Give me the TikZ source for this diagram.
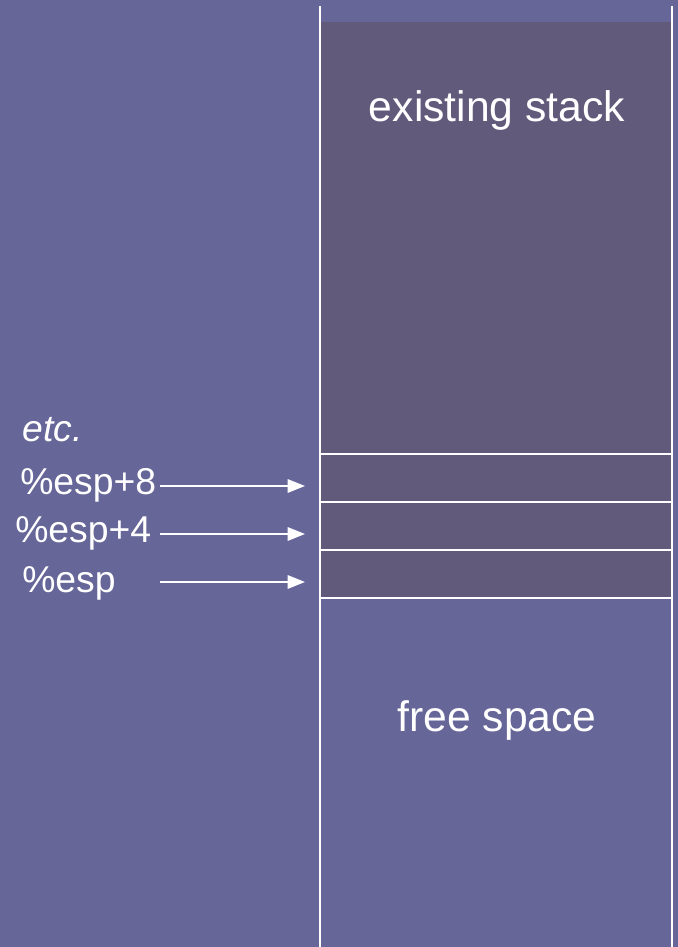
\documentclass[tikz,border=0pt]{standalone}
\usepackage{fontspec}
\setmainfont{Liberation Sans}
\usetikzlibrary{positioning, calc, arrows.meta}
\definecolor{bgblue}{HTML}{666699}
\definecolor{stackfill}{HTML}{615A7B}

\begin{document}
\begin{tikzpicture}[x=0.75pt, y=-0.75pt, >={Triangle[length=13pt, width=10pt]}]
        \tikzstyle{wline} = [draw=white, line width=1.5pt]
        \tikzstyle{slot} = [rectangle, draw=white, line width=1.5pt, fill=stackfill, minimum width=264pt, minimum height=36pt, outer sep=0pt, inner sep=0pt]
        \tikzstyle{txt} = [text=white, font=\fontsize{32}{36}\selectfont, inner sep=0pt]
        \tikzstyle{reg} = [text=white, font=\fontsize{28}{32}\selectfont, inner sep=0pt, anchor=west]

        % background and stack area
        \fill [bgblue] (0,0) rectangle (678,947);
        \useasboundingbox (0,0) rectangle (678,947);
        \fill [stackfill] (320,22) rectangle (672,598);

        % the three stack slots
        \node (slot8) [slot, anchor=north west] at (320,454) {};
        \node (slot4) [slot, below=0pt of slot8] {};
        \node (slot0) [slot, below=0pt of slot4] {};

        % side walls of the stack
        \draw [wline] (320,6) -- (320,947);
        \draw [wline] (672,6) -- (672,947);

        \node (existing) [txt] at (497,110) {existing stack};
        \node (free) [txt] at (497,720) {free space};

        % register labels
        \node (etc) [reg] at (22,430) {\itshape etc.};
        \node (lbl8) [reg] at (20,485) {\%esp+8};
        \node (lbl4) [reg] at (15,533) {\%esp+4};
        \node (lbl0) [reg] at (22,583) {\%esp};

        % pointers
        \foreach \r/\y in {8/486, 4/534, 0/582} {
            \coordinate (t\r) at (160,\y);
            \coordinate (h\r) at (305,\y);
            \draw [->, draw=white, fill=white, line width=1.5pt] (t\r) -- (h\r);
        }
    \end{tikzpicture}
\end{document}
